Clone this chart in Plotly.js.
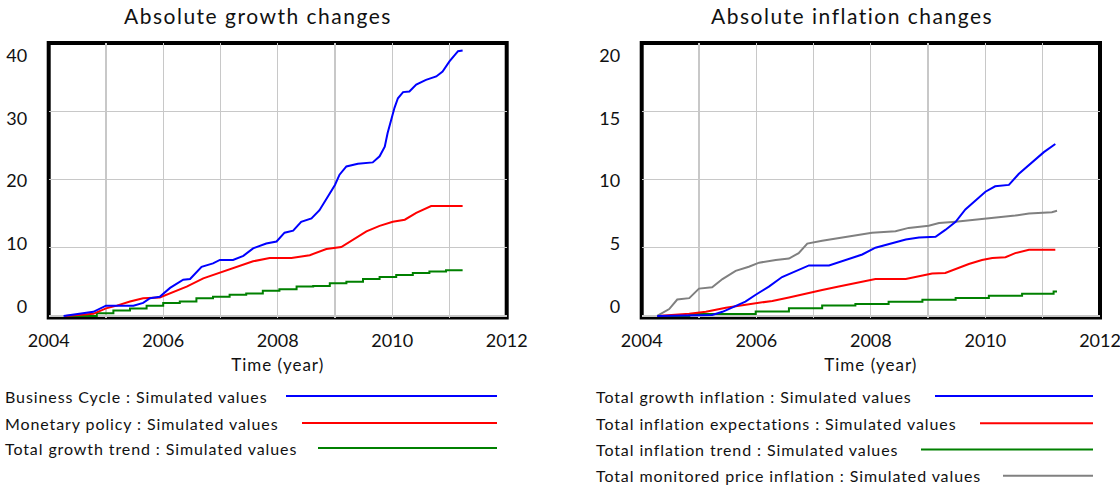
<!DOCTYPE html>
<html><head><meta charset="utf-8">
<script src="https://cdn.plot.ly/plotly-3.0.1.min.js"></script>
<style>
html,body{margin:0;padding:0;background:#fff}
#chart{width:1120px;height:485px}
</style>
</head><body><div id="chart"></div>
<script>
// ---------- data ----------
// Left chart: Absolute growth changes
const bizCycleYears = [2004.26,2004.55,2004.78,2005.00,2005.24,2005.48,2005.65,2005.77,2005.94,2006.12,2006.35,2006.47,2006.67,2006.87,2006.99,2007.22,2007.40,2007.57,2007.80,2007.98,2008.12,2008.27,2008.41,2008.59,2008.73,2008.88,2009.00,2009.08,2009.20,2009.40,2009.66,2009.78,2009.87,2009.92,2009.98,2010.04,2010.10,2010.19,2010.30,2010.42,2010.59,2010.77,2010.88,2011.00,2011.15,2011.23];
const bizCycleVals  = [0,0.3,0.6,1.5,1.5,1.5,1.9,2.6,2.8,4.1,5.3,5.4,7.2,7.7,8.2,8.2,8.8,9.9,10.6,10.9,12.2,12.5,13.8,14.3,15.5,17.5,19.2,20.7,21.9,22.3,22.5,23.4,24.8,26.8,28.8,30.5,31.9,32.8,32.9,33.9,34.6,35.1,35.8,37.3,38.8,38.9];

const monetaryYears = [2004.29,2004.55,2004.78,2005.00,2005.19,2005.42,2005.65,2005.94,2006.12,2006.41,2006.70,2006.99,2007.28,2007.57,2007.86,2008.24,2008.56,2008.85,2009.11,2009.31,2009.55,2009.78,2010.01,2010.22,2010.42,2010.68,2011.23];
const monetaryVals  = [0,0.15,0.3,1.1,1.5,2.1,2.6,2.7,3.3,4.3,5.5,6.3,7.1,8.0,8.5,8.5,8.9,9.8,10.1,11.1,12.4,13.2,13.8,14.1,15.1,16.1,16.1];

const growthTrendYears = [2004.29,2004.84,2005.13,2005.42,2005.71,2006.00,2006.29,2006.58,2006.87,2007.16,2007.45,2007.74,2008.03,2008.33,2008.62,2008.91,2009.20,2009.49,2009.78,2010.07,2010.36,2010.65,2010.94,2011.23];
const growthTrendVals  = [0,0.4,0.8,1.1,1.5,1.9,2.1,2.6,2.8,3.1,3.3,3.7,3.9,4.3,4.4,4.8,5.0,5.4,5.7,6.0,6.3,6.5,6.7,6.7];

// Right chart: Absolute inflation changes
const growthInflYears = [2004.27,2005.23,2005.41,2005.64,2005.81,2005.99,2006.22,2006.45,2006.69,2006.92,2007.27,2007.56,2007.85,2008.08,2008.37,2008.61,2008.84,2009.13,2009.30,2009.48,2009.65,2009.83,2010.00,2010.17,2010.41,2010.58,2010.81,2011.02,2011.22];
const growthInflVals  = [0,0.07,0.3,0.7,1.05,1.55,2.15,2.85,3.3,3.7,3.7,4.1,4.5,5.0,5.3,5.6,5.75,5.8,6.3,6.9,7.8,8.5,9.1,9.5,9.6,10.4,11.2,12.0,12.6];

const expectYears = [2004.27,2004.83,2005.12,2005.29,2005.47,2005.70,2006.05,2006.28,2006.57,2006.86,2007.15,2007.44,2007.73,2008.08,2008.61,2008.84,2009.07,2009.30,2009.48,2009.71,2009.94,2010.12,2010.35,2010.52,2010.76,2011.22];
const expectVals  = [0,0.15,0.3,0.45,0.6,0.75,0.95,1.1,1.35,1.65,1.9,2.15,2.4,2.7,2.7,2.9,3.1,3.15,3.45,3.8,4.1,4.25,4.3,4.6,4.85,4.85];

const inflTrendYears = [2004.27,2004.83,2005.99,2006.57,2007.15,2007.73,2008.31,2008.90,2009.48,2010.06,2010.64,2011.19,2011.25];
const inflTrendVals  = [0,0.13,0.32,0.56,0.76,0.88,1.03,1.18,1.32,1.47,1.62,1.79,1.79];

const monitoredYears = [2004.27,2004.48,2004.62,2004.83,2005.00,2005.23,2005.41,2005.64,2005.87,2006.05,2006.34,2006.57,2006.74,2006.89,2007.15,2007.44,2007.73,2008.02,2008.43,2008.66,2009.01,2009.19,2009.48,2009.94,2010.23,2010.52,2010.76,2011.16,2011.25];
const monitoredVals  = [0,0.5,1.2,1.3,2.0,2.1,2.7,3.3,3.6,3.9,4.1,4.2,4.6,5.3,5.5,5.7,5.9,6.1,6.2,6.45,6.6,6.8,6.9,7.1,7.2,7.35,7.5,7.6,7.7];

// tick labels
const xTickVals = [2004, 2006, 2008, 2010, 2012];
const leftYTicks = [0, 10, 20, 30, 40];
const rightYTicks = [0, 5, 10, 15, 20];

const leftTitle = 'Absolute growth changes';
const rightTitle = 'Absolute inflation changes';
const xTitle = 'Time (year)';
const leftNames = ['Business Cycle : Simulated values', 'Monetary policy : Simulated values', 'Total growth trend : Simulated values'];
const rightNames = ['Total growth inflation : Simulated values', 'Total inflation expectations : Simulated values', 'Total inflation trend : Simulated values', 'Total monitored price inflation : Simulated values'];

// ---------- style ----------
const FONT = 'Lato, "Open Sans", sans-serif';
const TXT = '#111111';
const BLUE = '#0000ff', RED = '#ff0000', GREEN = '#008000', GRAY = '#808080';
const W = 1120, H = 485;
const xl = [48.7 / W, 506.7 / W], xr = [641.7 / W, 1100 / W];
const yd = [1 - 317.6 / H, 1 - 43 / H];
const GRID = '#c8c8c8';
const spaced = (t, px) => '<span style="letter-spacing:' + px + 'px">' + t + '</span>';

function ln(x, y, color, xa, ya, shape) {
  return {type: 'scatter', mode: 'lines', x: x, y: y, xaxis: xa, yaxis: ya,
    line: {color: color, width: 2, shape: shape || 'linear'}, showlegend: false, hoverinfo: 'skip'};
}
const traces = [
  ln(growthTrendYears, growthTrendVals, GREEN, 'x', 'y', 'hv'),
  ln(monetaryYears, monetaryVals, RED, 'x', 'y'),
  ln(bizCycleYears, bizCycleVals, BLUE, 'x', 'y'),
  ln(inflTrendYears, inflTrendVals, GREEN, 'x2', 'y2', 'hv'),
  ln(expectYears, expectVals, RED, 'x2', 'y2'),
  ln(monitoredYears, monitoredVals, GRAY, 'x2', 'y2'),
  ln(growthInflYears, growthInflVals, BLUE, 'x2', 'y2'),
  {type: 'scatter', mode: 'lines', x: [], y: [], xaxis: 'x', yaxis: 'y3', showlegend: false, hoverinfo: 'skip'},
  {type: 'scatter', mode: 'lines', x: [], y: [], xaxis: 'x2', yaxis: 'y4', showlegend: false, hoverinfo: 'skip'}
];

function xAxis(domain, anchor) {
  return {domain: domain, anchor: anchor, range: [2004, 2012], tickvals: xTickVals,
    showgrid: true, gridcolor: GRID, gridwidth: 1.3,
    minor: {dtick: 1, tick0: 2004, showgrid: true, gridcolor: GRID, gridwidth: 1.3, ticks: ''},
    zeroline: false, showline: false, ticks: 'outside', ticklen: 7, tickcolor: 'rgba(0,0,0,0)',
    ticklabeloverflow: 'allow',
    tickfont: {family: FONT, size: 18, color: TXT},
    title: {text: spaced(xTitle, 1), font: {family: FONT, size: 17, color: TXT}, standoff: 8},
    fixedrange: true};
}
function yGrid(anchor, range, dtick) {
  return {domain: yd, anchor: anchor, range: range, dtick: dtick, showgrid: true, gridcolor: GRID, gridwidth: 1.3,
    showticklabels: false, ticks: '', zeroline: false, showline: false, fixedrange: true};
}
function yLabels(over, anchor, range, vals) {
  return {overlaying: over, anchor: anchor, side: 'left', range: range, tickvals: vals,
    showgrid: false, zeroline: false, showline: false, ticks: 'outside', ticklen: 17,
    tickcolor: 'rgba(0,0,0,0)', tickfont: {family: FONT, size: 18, color: TXT}, fixedrange: true};
}

const shapes = [
  {type: 'rect', xref: 'paper', yref: 'paper', x0: xl[0], x1: xl[1], y0: yd[0], y1: yd[1], line: {color: '#000', width: 4}, layer: 'below'},
  {type: 'rect', xref: 'paper', yref: 'paper', x0: xr[0], x1: xr[1], y0: yd[0], y1: yd[1], line: {color: '#000', width: 4}, layer: 'below'}
];
const annotations = [
  {text: spaced(leftTitle, 1.5), xref: 'paper', yref: 'paper', x: 258 / W, y: 1 - 16 / H, xanchor: 'center', yanchor: 'middle', showarrow: false, font: {family: FONT, size: 21, color: TXT}},
  {text: spaced(rightTitle, 1.5), xref: 'paper', yref: 'paper', x: 852 / W, y: 1 - 16 / H, xanchor: 'center', yanchor: 'middle', showarrow: false, font: {family: FONT, size: 21, color: TXT}}
];
// custom legends: text on the left, line sample on the right
const leftLegend = [{y: 396, x0: 286, c: BLUE}, {y: 423, x0: 302, c: RED}, {y: 448, x0: 318, c: GREEN}];
const rightLegend = [{y: 396, x0: 935, c: BLUE}, {y: 423.3, x0: 980, c: RED}, {y: 449.6, x0: 921, c: GREEN}, {y: 475.8, x0: 1003, c: GRAY}];
leftLegend.forEach((e, i) => {
  annotations.push({text: spaced(leftNames[i], 0.9), xref: 'paper', yref: 'paper', x: 3 / W, y: 1 - e.y / H, xanchor: 'left', yanchor: 'middle', showarrow: false, font: {family: FONT, size: 16, color: TXT}});
  shapes.push({type: 'line', xref: 'paper', yref: 'paper', x0: e.x0 / W, x1: 497 / W, y0: 1 - e.y / H, y1: 1 - e.y / H, line: {color: e.c, width: 2}});
});
rightLegend.forEach((e, i) => {
  annotations.push({text: spaced(rightNames[i], 0.9), xref: 'paper', yref: 'paper', x: 594 / W, y: 1 - e.y / H, xanchor: 'left', yanchor: 'middle', showarrow: false, font: {family: FONT, size: 16, color: TXT}});
  shapes.push({type: 'line', xref: 'paper', yref: 'paper', x0: e.x0 / W, x1: 1093 / W, y0: 1 - e.y / H, y1: 1 - e.y / H, line: {color: e.c, width: 2}});
});

const layout = {
  width: W, height: H, margin: {l: 0, r: 0, t: 0, b: 0},
  paper_bgcolor: '#ffffff', plot_bgcolor: 'rgba(0,0,0,0)', showlegend: false,
  font: {family: FONT, color: TXT},
  xaxis: xAxis(xl, 'y'), xaxis2: xAxis(xr, 'y2'),
  yaxis: yGrid('x', [-0.25, 40], 10), yaxis2: yGrid('x2', [-0.125, 20], 5),
  yaxis3: yLabels('y', 'x', [-1.736, 41.99], leftYTicks),
  yaxis4: yLabels('y2', 'x2', [-0.868, 20.99], rightYTicks),
  shapes: shapes, annotations: annotations
};
Plotly.newPlot('chart', traces, layout, {staticPlot: true, displayModeBar: false});
</script></body></html>
